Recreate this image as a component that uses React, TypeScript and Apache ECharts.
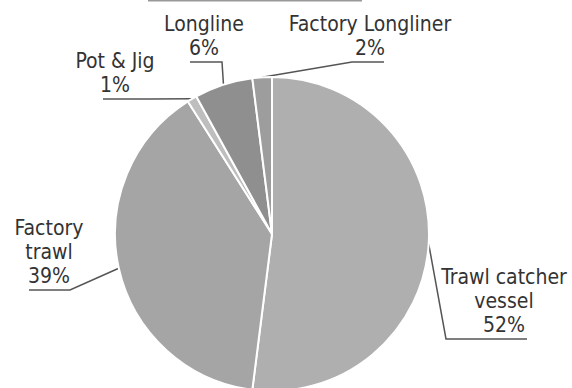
import React, { useEffect, useRef } from "react";
import * as echarts from "echarts";

const categories = ["Trawl catcher vessel", "Factory trawl", "Pot & Jig", "Longline", "Factory Longliner"];
const displayNames = ["Trawl catcher\nvessel", "Factory\ntrawl", "Pot & Jig", "Longline", "Factory Longliner"];
const shares = [52, 39, 1, 6, 2];
const sliceColors = ["#afafaf", "#a5a5a5", "#bebebe", "#8f8f8f", "#9d9d9d"];

// label placement (center-bottom of text, elbow & end of leader line)
const labelSpots = [
  { x: 504, y: 337, elbow: [446, 339], end: [527, 339] },
  { x: 49, y: 288, elbow: [70, 290], end: [29, 290] },
  { x: 115, y: 97, elbow: [150, 99], end: [103, 99] },
  { x: 204, y: 60, elbow: [222, 62], end: [190, 62] },
  { x: 370, y: 60, elbow: [352, 62], end: [384, 62] },
];

export default function App() {
  const ref = useRef<HTMLDivElement>(null);
  useEffect(() => {
    if (!ref.current) return;
    const chart = echarts.init(ref.current, null, { renderer: "svg" });
    chart.setOption({
      animation: false,
      backgroundColor: "#ffffff",
      graphic: [
        {
          type: "line",
          shape: { x1: 148, y1: 0.5, x2: 362, y2: 0.5 },
          style: { stroke: "#999999", lineWidth: 2 },
        },
      ],
      series: [
        {
          type: "pie",
          center: [272, 234],
          radius: 157,
          startAngle: 90,
          clockwise: true,
          avoidLabelOverlap: false,
          itemStyle: { borderColor: "#ffffff", borderWidth: 2 },
          emphasis: { disabled: true },
          label: {
            show: true,
            position: "outside",
            formatter: (p: any) => `${displayNames[p.dataIndex]}\n${p.value}%`,
            fontFamily: "'DejaVu Sans Condensed', 'DejaVu Sans', sans-serif",
            fontSize: 21,
            lineHeight: 24,
            color: "#333333",
            align: "center",
          },
          labelLine: {
            show: true,
            length: 10,
            length2: 10,
            lineStyle: { color: "#555555", width: 1.5 },
          },
          labelLayout: (params: any) => {
            const s = labelSpots[params.dataIndex];
            const p0 = params.labelLinePoints ? params.labelLinePoints[0] : s.elbow;
            return {
              x: s.x,
              y: s.y,
              align: "center",
              verticalAlign: "bottom",
              labelLinePoints: [p0, s.elbow, s.end],
            };
          },
          data: categories.map((name, i) => ({
            name,
            value: shares[i],
            itemStyle: { color: sliceColors[i] },
          })),
        },
      ],
    });
    return () => chart.dispose();
  }, []);
  return (
    <div
      ref={ref}
      style={{ position: "fixed", left: 0, top: 0, width: 572, height: 388 }}
    />
  );
}
